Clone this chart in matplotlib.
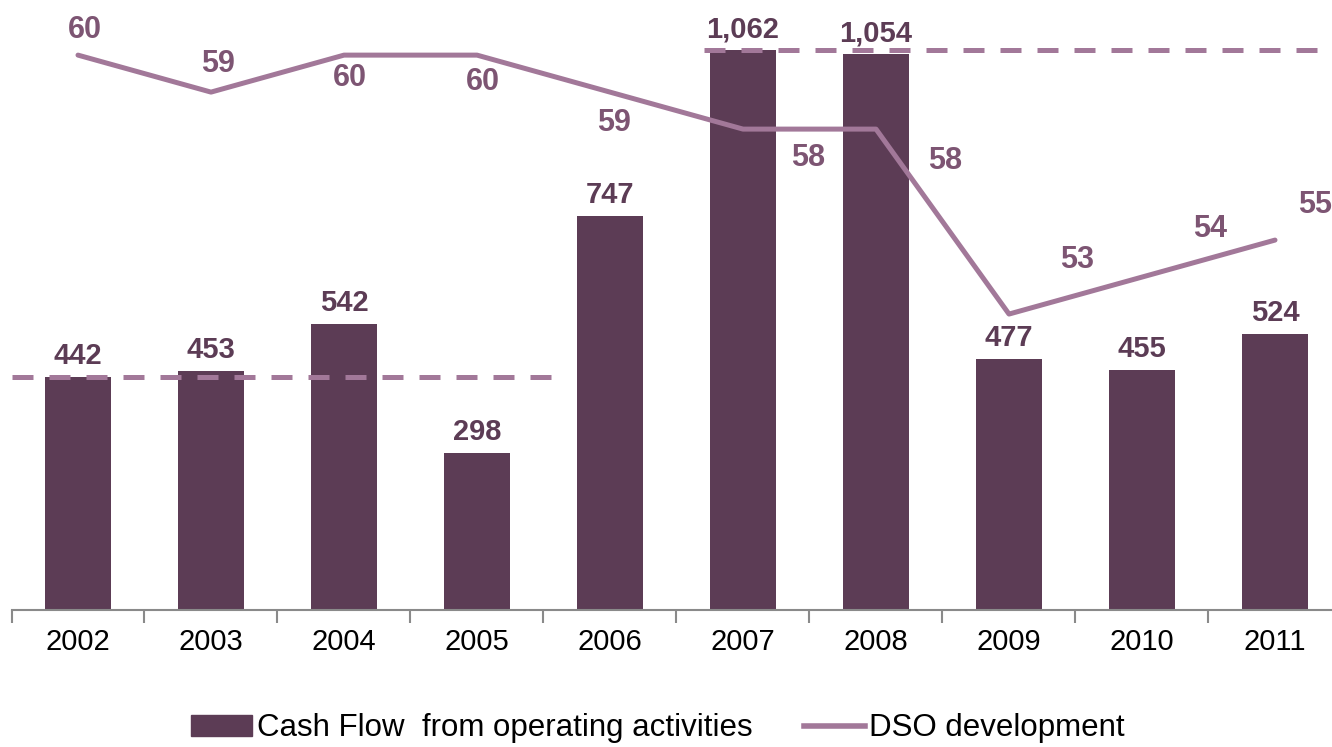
import numpy as np
import matplotlib.pyplot as plt
from matplotlib.lines import Line2D
from matplotlib.patches import Patch

plt.rcParams['font.family'] = ['Liberation Sans', 'DejaVu Sans']

# Yearly figures
years = ['2002', '2003', '2004', '2005', '2006', '2007', '2008', '2009', '2010', '2011']
cash_flow = [442, 453, 542, 298, 747, 1062, 1054, 477, 455, 524]
dso = [60, 59, 60, 60, 59, 58, 58, 53, 54, 55]

# where each DSO label sits relative to its point (pixels)
dso_offsets = [(7, 25), (7, 28), (6, -23), (6, -27), (4, -31),
               (65, -29), (69, -32), (68, 54), (68, 48), (40, 35)]

bar_color = '#5c3c55'
line_color = '#a27899'
dso_text = '#7d5573'

fig = plt.figure(figsize=(13.32, 7.47), dpi=100)
ax = fig.add_axes([11.5 / 1332, 137 / 747, 1330 / 1332, 610 / 747])
x = np.arange(len(years))

ax.bar(x, cash_flow, width=0.5, color=bar_color, zorder=2)
ax.set_xlim(-0.5, len(years) - 0.5)
ax.set_ylim(0, 1157)

for xi, v in zip(x, cash_flow):
    ax.annotate(f'{v:,}', (xi, v), xytext=(0, 7), textcoords='offset pixels',
                ha='center', va='bottom', fontsize=21, fontweight='bold',
                color=bar_color)

# reference levels
ax.plot([-0.5, 3.66], [cash_flow[0]] * 2, color=line_color, lw=3.6,
        dashes=(4.2, 3.2), zorder=4)
ax.plot([4.71, 9.5], [cash_flow[5]] * 2, color=line_color, lw=3.6,
        dashes=(4.2, 3.2), zorder=4)

for s in ['top', 'right', 'left']:
    ax.spines[s].set_visible(False)
ax.spines['bottom'].set_color('#8a8a8a')
ax.spines['bottom'].set_linewidth(1.5)
ax.set_yticks([])
ax.set_xticks(np.arange(-0.5, len(years), 1), minor=False)
ax.set_xticklabels([])
ax.tick_params(axis='x', which='major', length=9, width=1.5, color='#8a8a8a')
ax.set_xticks(x, minor=True)
ax.set_xticklabels(years, minor=True, fontsize=21)
ax.tick_params(axis='x', which='minor', length=0, pad=13)

ax2 = ax.twinx()
ax2.set_ylim(45, 61.49)
ax2.plot(x, dso, color=line_color, lw=3.6, solid_capstyle='round', zorder=5)
ax2.set_yticks([])
for s in ax2.spines.values():
    s.set_visible(False)
for xi, v, (dx, dy) in zip(x, dso, dso_offsets):
    ax2.annotate(str(v), (xi, v), xytext=(dx, dy), textcoords='offset pixels',
                 ha='center', va='center', fontsize=22, fontweight='bold',
                 color=dso_text)

handles = [Patch(color=bar_color), Line2D([], [], color=line_color, lw=4)]
fig.legend(handles, ['Cash Flow  from operating activities', 'DSO development'],
           loc='center', bbox_to_anchor=(0.494, 0.025), ncol=2, frameon=False,
           fontsize=22.5, handlelength=1.95, handleheight=0.65, handletextpad=0.15,
           columnspacing=1.65)

fig.savefig('out.png', dpi=100)
